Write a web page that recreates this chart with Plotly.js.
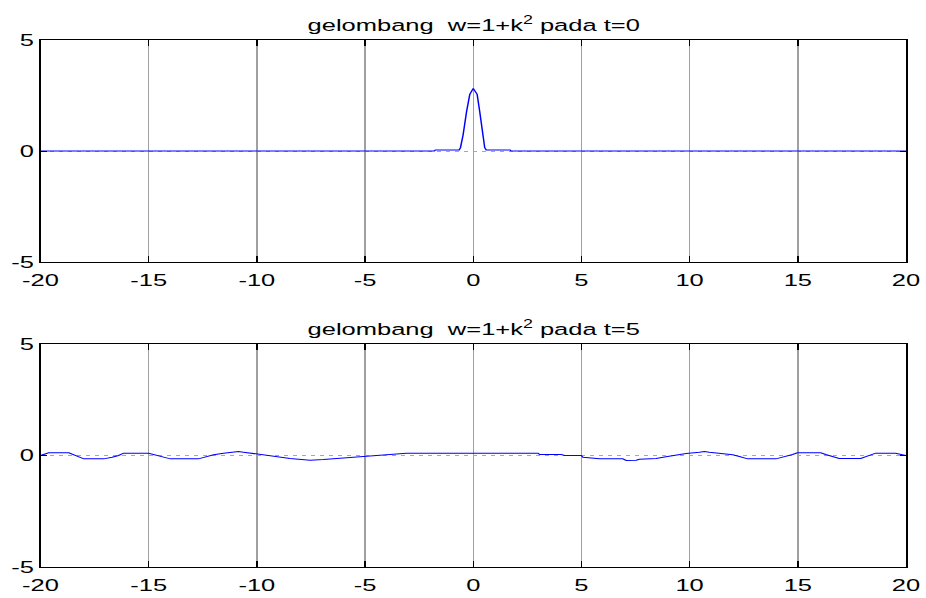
<!DOCTYPE html>
<html>
<head>
<meta charset="utf-8">
<script src="https://cdn.plot.ly/plotly-3.0.1.min.js"></script>
<style>
html,body{margin:0;padding:0;background:#fff;overflow:hidden;}
#wrap{width:926px;height:598px;overflow:hidden;}
#plot{width:617.333px;height:598px;transform:scaleX(1.5);transform-origin:0 0;}
</style>
</head>
<body>
<div id="wrap"><div id="plot"></div></div>
<script>
// Titles
const titleTop = 'gelombang\u00a0\u00a0w=1+k<sup>2</sup> pada t=0';
const titleBottom = 'gelombang\u00a0\u00a0w=1+k<sup>2</sup> pada t=5';

// Axis ticks
const xTicks = [-20, -15, -10, -5, 0, 5, 10, 15, 20];
const xTickLabels = ['-20', '-15', '-10', '-5', '0', '5', '10', '15', '20'];
const yTicks = [-5, 0, 5];
const yTickLabels = ['-5', '0', '5'];

// Wave at t=0
const xT0 = [-20, -1.8, -1.75, -0.65, -0.59, -0.47, -0.31, -0.16, 0, 0.18, 0.30, 0.42, 0.53, 0.6, 1.7, 1.75, 20];
const yT0 = [0, 0, 0.05, 0.05, 0.15, 0.72, 1.77, 2.55, 2.82, 2.55, 1.77, 0.72, 0.15, 0.05, 0.05, 0, 0];

// Wave at t=5
const xT5 = [-20, -19.62, -18.69, -18.23, -18.0, -17.08, -16.92, -16.69, -16.39, -16.16, -15.0, -14.77, -14.46, -14.0, -12.7, -12.39, -12.0, -11.54, -11.08, -10.85, -10.62, -10.39, -9.93, -9.77, -9.39, -8.93, -8.47, -7.54, -7.08, -6.93, -6.46, -5.85, -5.08, -4.16, -3.08,
  2.99, 3.07, 4.07, 4.22, 4.99, 5.07, 5.84, 6.91, 7.07, 7.53, 7.68, 8.45, 8.91, 9.38, 9.84, 10.45, 10.68, 10.91, 11.53, 11.99, 12.30, 12.68, 13.99, 14.45, 14.76, 14.98, 16.06, 16.29, 16.91, 17.91, 18.21, 18.6, 19.52, 19.75, 20];
const yT5 = [0, 0.12, 0.12, -0.075, -0.15, -0.15, -0.105, -0.075, 0, 0.105, 0.105, 0.045, -0.045, -0.15, -0.15, -0.075, 0.03, 0.105, 0.165, 0.18, 0.15, 0.12, 0.09, 0.045, 0.015, -0.045, -0.135, -0.21, -0.21, -0.18, -0.15, -0.105, -0.03, 0.045, 0.105,
  0.105, 0.045, 0.045, 0, 0, -0.075, -0.15, -0.15, -0.224, -0.21, -0.165, -0.135, -0.06, 0.03, 0.09, 0.15, 0.18, 0.15, 0.09, 0.03, -0.045, -0.15, -0.15, -0.045, 0.045, 0.12, 0.12, 0.045, -0.135, -0.135, -0.03, 0.105, 0.105, 0.045, 0];

const font = {family: 'Liberation Sans, Arial, sans-serif', size: 17, color: '#000'};

function xAxis(anchor) {
  return {
    anchor: anchor, range: [-20, 20], tickmode: 'array', tickvals: xTicks, ticktext: xTickLabels,
    showgrid: true, gridcolor: '#a0a0a0', gridwidth: 1, zeroline: false,
    showline: true, linecolor: '#000', linewidth: 1, mirror: 'ticks',
    ticks: 'inside', ticklen: 6, tickcolor: '#000', tickwidth: 1,
    ticklabelstandoff: 3,
    tickfont: font, fixedrange: true
  };
}
function yAxis(anchor, domain) {
  return {
    anchor: anchor, domain: domain, range: [-5, 5], tickmode: 'array', tickvals: yTicks, ticktext: yTickLabels,
    showgrid: true, gridcolor: '#a8a8a8', gridwidth: 1, griddash: 'dot', zeroline: false,
    showline: true, linecolor: '#000', linewidth: 1, mirror: 'ticks',
    ticks: 'inside', ticklen: 4, tickcolor: '#000', tickwidth: 1,
    tickfont: font, fixedrange: true
  };
}

const traces = [
  {x: xT0, y: yT0, xaxis: 'x', yaxis: 'y', type: 'scatter', mode: 'lines',
   line: {color: '#0000ff', width: 1}, hoverinfo: 'skip'},
  {x: xT5, y: yT5, xaxis: 'x2', yaxis: 'y2', type: 'scatter', mode: 'lines',
   line: {color: '#0000ff', width: 1}, hoverinfo: 'skip'}
];

const layout = {
  width: 617.333, height: 598,
  margin: {l: 26.667, r: 12.667, t: 40, b: 31, pad: 0},
  paper_bgcolor: '#fff', plot_bgcolor: '#fff',
  showlegend: false, font: font,
  xaxis: xAxis('y'),
  yaxis: yAxis('x', [0.5787, 1]),
  xaxis2: xAxis('y2'),
  yaxis2: yAxis('x2', [0, 0.4231]),
  annotations: [
    {text: titleTop, xref: 'x domain', yref: 'y domain', x: 0.5, y: 1, xanchor: 'center', yanchor: 'bottom',
     yshift: 4, showarrow: false, font: font, borderpad: 0},
    {text: titleBottom, xref: 'x2 domain', yref: 'y2 domain', x: 0.5, y: 1, xanchor: 'center', yanchor: 'bottom',
     yshift: 4, showarrow: false, font: font, borderpad: 0}
  ]
};

Plotly.newPlot('plot', traces, layout, {staticPlot: true, displayModeBar: false});
</script>
</body>
</html>
